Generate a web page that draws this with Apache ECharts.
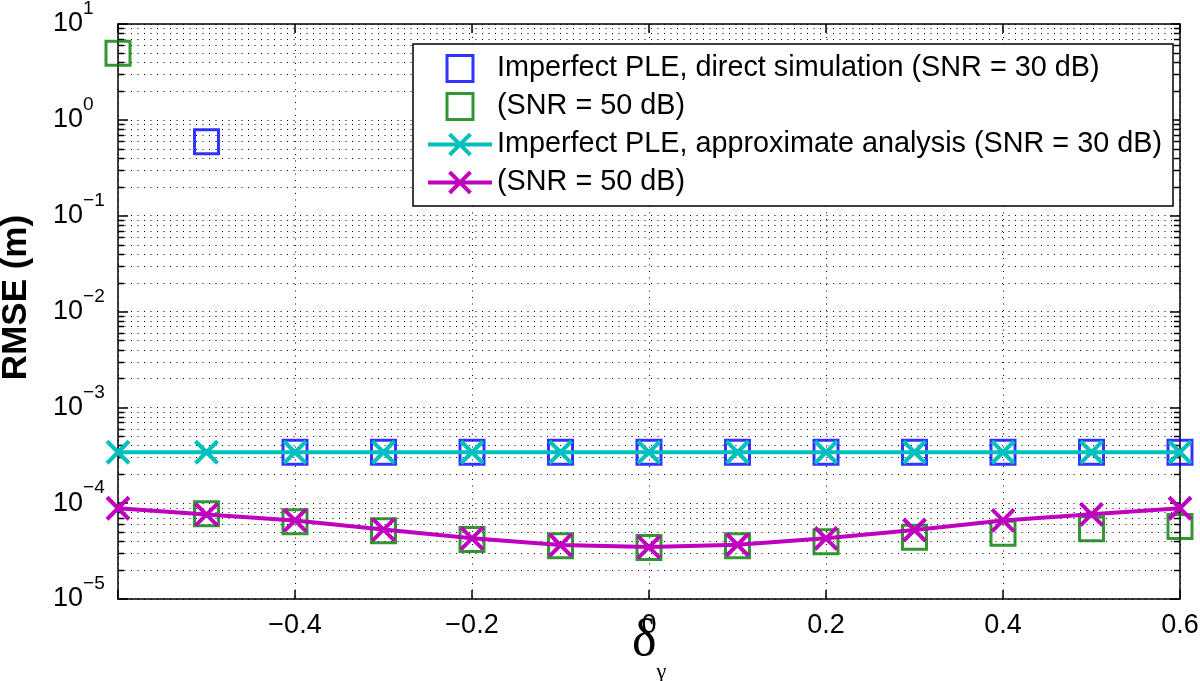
<!DOCTYPE html>
<html><head><meta charset="utf-8">
<script src="https://cdn.jsdelivr.net/npm/echarts@6/dist/echarts.min.js"></script>
<style>html,body{margin:0;padding:0;background:#fff}#c{width:1200px;height:681px}</style>
</head><body><div id="c"></div>
<script>
// ---- data ----
const xValues = [-0.6, -0.5, -0.4, -0.3, -0.2, -0.1, 0, 0.1, 0.2, 0.3, 0.4, 0.5, 0.6];
const simSnr30 = [null, 0.59, 3.4e-4, 3.4e-4, 3.4e-4, 3.4e-4, 3.4e-4, 3.4e-4, 3.4e-4, 3.4e-4, 3.4e-4, 3.4e-4, 3.4e-4];
const simSnr50 = [4.95, 7.75e-5, 6.4e-5, 5.15e-5, 4.18e-5, 3.59e-5, 3.45e-5, 3.59e-5, 3.96e-5, 4.4e-5, 4.85e-5, 5.4e-5, 5.7e-5];
const approxSnr30 = [3.4e-4, 3.4e-4, 3.4e-4, 3.4e-4, 3.4e-4, 3.4e-4, 3.4e-4, 3.4e-4, 3.4e-4, 3.4e-4, 3.4e-4, 3.4e-4, 3.4e-4];
const approxSnr50 = [8.85e-5, 7.6e-5, 6.6e-5, 5.3e-5, 4.3e-5, 3.65e-5, 3.48e-5, 3.68e-5, 4.3e-5, 5.25e-5, 6.6e-5, 7.65e-5, 8.85e-5];
const seriesNames = [
  'Imperfect PLE, direct simulation (SNR = 30 dB)',
  '(SNR = 50 dB)',
  'Imperfect PLE, approximate analysis (SNR = 30 dB)',
  '(SNR = 50 dB) '
];
const xMin = -0.6, xMax = 0.6, xStep = 0.2;
const yMin = 1e-5, yMax = 10;
const minorMultipliers = [2, 3, 4, 5, 6, 7, 8, 9];
const decadeExponents = [-5, -4, -3, -2, -1, 0];

// ---- helpers ----
const pair = arr => xValues.map((x, i) => [x, arr[i]]).filter(p => p[1] != null);
const minorTickValues = [];
decadeExponents.forEach(e => minorMultipliers.forEach(m => minorTickValues.push(m * Math.pow(10, e))));

const BLUE = '#0000ff', GREEN = '#007a00', CYAN = '#00bfbf', MAGENTA = '#bf00bf';
const FONT = 'Liberation Sans';
const CROSS = 'path://M0,0L10,10M10,0L0,10';
const SQUARE = 'path://M0,0L10,0L10,10L0,10Z';
const dotted = [1, 5.5];

const chart = echarts.init(document.getElementById('c'), null, {renderer: 'canvas'});
const option = {
  animation: false,
  backgroundColor: '#fff',
  grid: {left: 118, right: 20, top: 24, bottom: 82, containLabel: false, outerBoundsMode: 'none'},
  legend: {
    orient: 'vertical', left: 413, top: 44,
    selectedMode: false,
    itemWidth: 64, itemHeight: 26, itemGap: 9,
    padding: [10, 11, 9, 13],
    borderColor: '#000', borderWidth: 1.5, backgroundColor: '#fff',
    textStyle: {fontFamily: FONT, fontSize: 28.8, color: '#000', lineHeight: 28},
    data: [
      {name: seriesNames[0], icon: SQUARE, itemStyle: {borderWidth: 3}},
      {name: seriesNames[1], icon: SQUARE, itemStyle: {borderWidth: 3}},
      {name: seriesNames[2], itemStyle: {borderWidth: 4}, lineStyle: {width: 4}},
      {name: seriesNames[3], itemStyle: {borderWidth: 4}, lineStyle: {width: 4}}
    ]
  },
  xAxis: [{
    type: 'value', min: xMin, max: xMax, interval: xStep, position: 'bottom',
    axisLine: {show: true, onZero: false, lineStyle: {color: '#000', width: 1.5}},
    axisTick: {show: true, inside: true, length: 9, lineStyle: {color: '#000', width: 1.5}},
    axisLabel: {
      margin: 13, fontFamily: FONT, fontSize: 27, color: '#000',
      showMinLabel: true, showMaxLabel: true,
      formatter: v => {
        const r = Math.round(v * 10) / 10;
        if (Math.abs(r - xMin) < 1e-9) return '';
        if (r === 0) return '0';
        return (r < 0 ? '\u2212' : '') + Math.abs(r).toFixed(1);
      }
    },
    splitLine: {show: true, lineStyle: {color: '#000', width: 1, type: dotted}},
    name: '{d|\u03b4}{g|\u03b3}', nameLocation: 'middle', nameGap: 32, nameMoveOverlap: false,
    nameTextStyle: {
      rich: {
        d: {fontFamily: 'Liberation Serif', fontSize: 52, lineHeight: 52, color: '#000', verticalAlign: 'bottom', padding: [0, 0, 16, 0]},
        g: {fontFamily: 'Liberation Serif', fontSize: 22, lineHeight: 22, color: '#000', verticalAlign: 'bottom'}
      }
    }
  }, {
    type: 'value', min: xMin, max: xMax, interval: xStep, position: 'top',
    axisLine: {show: true, onZero: false, lineStyle: {color: '#000', width: 1.5}},
    axisTick: {show: true, inside: true, length: 9, lineStyle: {color: '#000', width: 1.5}},
    axisLabel: {show: false}, splitLine: {show: false}
  }],
  yAxis: [{
    type: 'log', logBase: 10, min: yMin, max: yMax, position: 'left',
    axisLine: {show: true, onZero: false, lineStyle: {color: '#000', width: 1.5}},
    axisTick: {show: true, inside: true, length: 10, lineStyle: {color: '#000', width: 1.5}},
    axisLabel: {
      align: 'left', margin: 65, showMinLabel: true, showMaxLabel: true,
      padding: [20, 0, 0, 0],
      formatter: v => {
        const e = Math.round(Math.log10(v));
        return '{b|10}{s|' + (e < 0 ? '\u2212' + (-e) : String(e)) + '}';
      },
      rich: {
        b: {fontFamily: FONT, fontSize: 27, color: '#000', lineHeight: 27, verticalAlign: 'bottom', padding: [0, 0, 10, 0]},
        s: {fontFamily: FONT, fontSize: 19, color: '#000', lineHeight: 19, verticalAlign: 'bottom', padding: [0, 0, 29, 0]}
      }
    },
    splitLine: {show: true, lineStyle: {color: '#000', width: 1, type: dotted}},
    name: 'RMSE (m)', nameLocation: 'middle', nameGap: 84, nameMoveOverlap: false,
    nameTextStyle: {fontFamily: FONT, fontWeight: 'bold', fontSize: 35, color: '#000', padding: [0, 0, 0, 28]}
  }, {
    type: 'log', logBase: 10, min: yMin, max: yMax, position: 'right',
    axisLine: {show: true, onZero: false, lineStyle: {color: '#000', width: 1.5}},
    axisTick: {show: true, inside: true, length: 10, lineStyle: {color: '#000', width: 1.5}},
    axisLabel: {show: false}, splitLine: {show: false}
  }],
  series: [
    {
      type: 'custom', name: 'minor-grid', silent: true, z: 1, clip: false,
      xAxisIndex: 0, yAxisIndex: 0,
      data: minorTickValues.map(v => [0, v]),
      renderItem: (params, api) => {
        const v = api.value(1);
        const p1 = api.coord([xMin, v]);
        const p2 = api.coord([xMax, v]);
        const y = Math.round(p1[1]) + 0.5;
        return {type: 'group', children: [
          {type: 'line', shape: {x1: p1[0], y1: y, x2: p2[0], y2: y}, style: {stroke: '#000', lineWidth: 1, lineDash: dotted}},
          {type: 'line', shape: {x1: p1[0], y1: y, x2: p1[0] + 6, y2: y}, style: {stroke: '#000', lineWidth: 1.5}},
          {type: 'line', shape: {x1: p2[0] - 6, y1: y, x2: p2[0], y2: y}, style: {stroke: '#000', lineWidth: 1.5}}
        ]};
      }
    },
    {
      type: 'scatter', name: seriesNames[0], data: pair(simSnr30), clip: false, z: 3,
      symbol: SQUARE, symbolSize: 24,
      itemStyle: {color: 'transparent', borderColor: BLUE, borderWidth: 3}
    },
    {
      type: 'scatter', name: seriesNames[1], data: pair(simSnr50), clip: false, z: 3,
      symbol: SQUARE, symbolSize: 24,
      itemStyle: {color: 'transparent', borderColor: GREEN, borderWidth: 3}
    },
    {
      type: 'line', name: seriesNames[2], data: pair(approxSnr30), clip: false, z: 4,
      symbol: CROSS, symbolSize: 22, showAllSymbol: true,
      lineStyle: {color: CYAN, width: 4},
      itemStyle: {color: CYAN, borderColor: CYAN, borderWidth: 4}
    },
    {
      type: 'line', name: seriesNames[3], data: pair(approxSnr50), clip: false, z: 4,
      symbol: CROSS, symbolSize: 22, showAllSymbol: true,
      lineStyle: {color: MAGENTA, width: 4},
      itemStyle: {color: MAGENTA, borderColor: MAGENTA, borderWidth: 4}
    }
  ]
};
chart.setOption(option);
</script>
</body></html>
